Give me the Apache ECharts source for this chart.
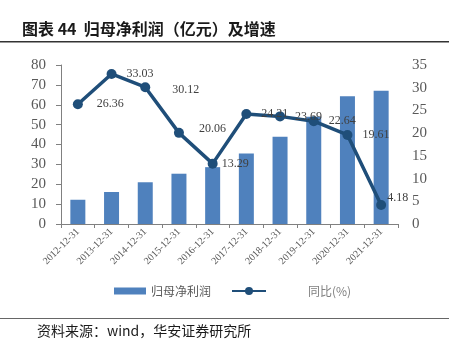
<!DOCTYPE html>
<html><head><meta charset="utf-8">
<script src="https://cdn.jsdelivr.net/npm/echarts@6/dist/echarts.min.js"></script>
<style>html,body{margin:0;padding:0;background:#fff}#c{width:453px;height:348px}</style>
</head><body><div id="c"></div>
<script>
const categories = ['2012-12-31','2013-12-31','2014-12-31','2015-12-31','2016-12-31','2017-12-31','2018-12-31','2019-12-31','2020-12-31','2021-12-31'];
const profit = [12.2, 16.1, 21.0, 25.3, 28.6, 35.5, 43.9, 54.0, 64.3, 67.0];
const growth = [26.36, 33.03, 30.12, 20.06, 13.29, 24.21, 23.69, 22.64, 19.61, 4.18];
const leftTicks = {min:0, max:80, interval:10};
const rightTicks = {min:0, max:35, interval:5};
// per-point label nudges (style only)
const labelNudge = [[4,0],[0,0],[12,3],[5,-4],[-6,0],[0,0],[0,0],[0,0],[0,0],[-9,-7]];

const chart = echarts.init(document.getElementById('c'));
const serif = '"Liberation Serif","DejaVu Serif",serif';
chart.setOption({
  animation:false,
  grid:{left:61, right:55, top:65, bottom:124},
  legend:[
    {left:114, top:285, padding:0, itemWidth:32, itemHeight:7, data:[{name:'归母净利润', icon:'rect'}],
     textStyle:{color:'#595959', fontSize:12, fontFamily:'"Noto Sans CJK SC"'}},
    {left:231, top:285, padding:0, itemWidth:34, itemHeight:10, data:[{name:'同比(%)'}],
     textStyle:{color:'#7f7f7f', fontSize:12, fontFamily:'"Noto Sans CJK SC"', padding:[0,0,0,37]}}
  ],
  xAxis:{type:'category', data:categories,
    axisLine:{lineStyle:{color:'#808080'}},
    axisTick:{show:true, alignWithLabel:false, length:4, lineStyle:{color:'#808080'}},
    axisLabel:{rotate:45, fontSize:10, color:'#595959', fontFamily:serif, margin:6}},
  yAxis:[
    {type:'value', min:leftTicks.min, max:leftTicks.max, interval:leftTicks.interval,
     splitLine:{show:false},
     axisLine:{show:true, lineStyle:{color:'#808080'}},
     axisTick:{show:true, length:5, inside:false, lineStyle:{color:'#808080'}},
     axisLabel:{fontSize:15, color:'#595959', fontFamily:serif, margin:15}},
    {type:'value', min:rightTicks.min, max:rightTicks.max, interval:rightTicks.interval,
     splitLine:{show:false}, axisLine:{show:false}, axisTick:{show:false},
     axisLabel:{fontSize:15, color:'#595959', fontFamily:serif, margin:14}}
  ],
  series:[
    {name:'归母净利润', type:'bar', data:profit, barWidth:15, itemStyle:{color:'#4F81BD'}},
    {name:'同比(%)', type:'line', yAxisIndex:1,
     data:growth.map((v,i)=>({value:v, label:{offset:labelNudge[i]}})),
     lineStyle:{color:'#1F4E79', width:3.5}, itemStyle:{color:'#1F4E79'},
     symbol:'circle', symbolSize:10,
     label:{show:true, position:'right', distance:10, fontSize:12, color:'#404040', fontFamily:serif}}
  ],
  graphic:[
    {type:'text', left:22, top:21, style:{text:'图表 44  归母净利润（亿元）及增速', fontSize:16, fontWeight:'bold', fill:'#1a1a1a', fontFamily:'"Noto Sans CJK SC"'}},
    {type:'rect', shape:{x:0, y:41, width:449, height:1.5}, style:{fill:'#333'}},
    {type:'rect', shape:{x:0, y:318, width:449, height:1}, style:{fill:'#666'}},
    {type:'text', left:37, top:324, style:{text:'资料来源：wind，华安证券研究所', fontSize:14, fill:'#1a1a1a', fontFamily:'"Noto Sans CJK SC"'}}
  ]
});
</script></body></html>
